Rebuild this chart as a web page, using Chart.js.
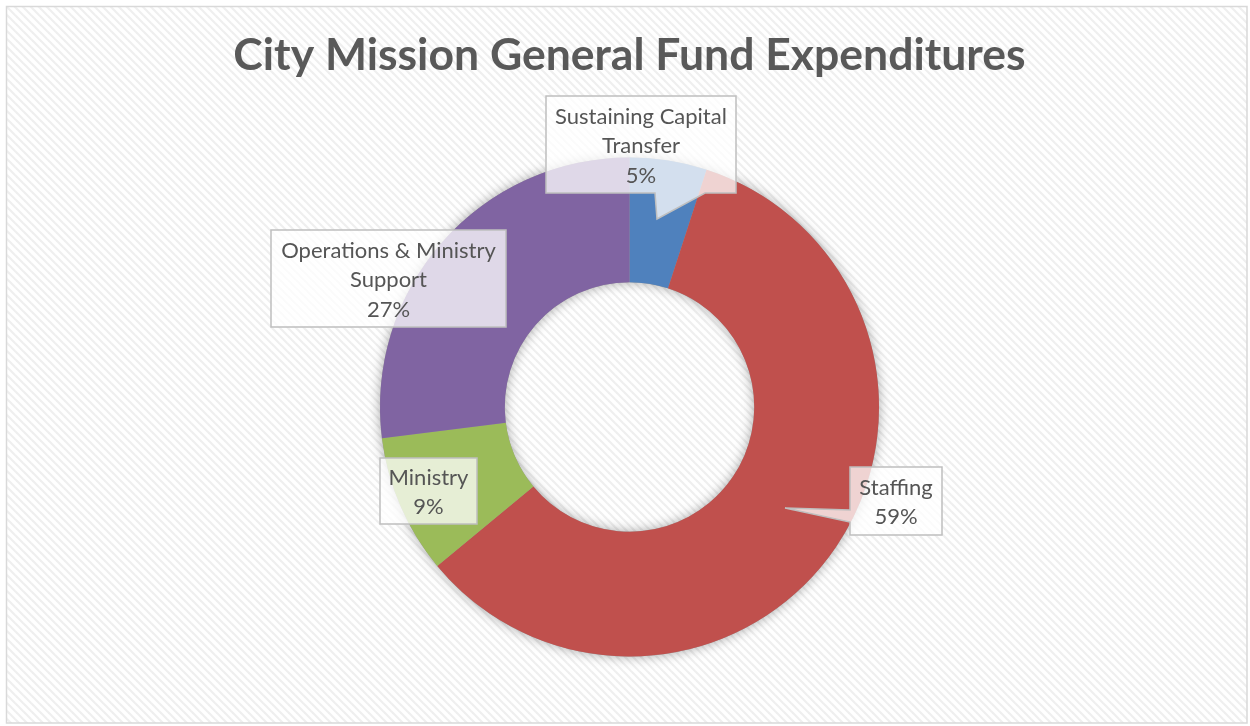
<!DOCTYPE html>
<html><head><meta charset="utf-8">
<script src="https://cdn.jsdelivr.net/npm/chart.js@4.4.0/dist/chart.umd.min.js"></script>
<style>html,body{margin:0;padding:0;background:#fff;overflow:hidden}#wrap{width:1250px;height:726px;position:relative}</style>
</head><body><div id="wrap"><canvas id="c"></canvas></div>
<script>
const categories = ['Sustaining Capital Transfer', 'Staffing', 'Ministry', 'Operations & Ministry Support'];
const labelLines = [['Sustaining Capital', 'Transfer'], ['Staffing'], ['Ministry'], ['Operations & Ministry', 'Support']];
const percentages = [5, 59, 9, 27];
const sliceColors = ['#4F81BD', '#C0504D', '#9BBB59', '#8064A2'];
const titleText = 'City Mission General Fund Expenditures';

// callout box placement relative to doughnut centre (pixels)
const calloutLayout = [
  {dx: 11.5, dy: -262.5, w: 190, h: 97, pointer: {side: 'bottom', a: 109, b: 159, tx: 27.5, ty: -188}},
  {dx: 266.5, dy: 94, w: 92, h: 68, pointer: {side: 'left', a: 43, b: 55, tx: 155.5, ty: 101}},
  {dx: -201, dy: 84, w: 97, h: 66, pointer: null},
  {dx: -241, dy: -128.5, w: 235, h: 97, pointer: null}
];

function makePattern(ctx) {
  const p = document.createElement('canvas');
  p.width = 8; p.height = 8;
  const g = p.getContext('2d');
  g.fillStyle = '#ffffff'; g.fillRect(0, 0, 8, 8);
  g.strokeStyle = '#efefef'; g.lineWidth = 2.2;
  for (let k = -2; k <= 2; k++) {
    g.beginPath(); g.moveTo(k * 8 - 2, -2); g.lineTo(k * 8 + 10, 10); g.stroke();
  }
  return ctx.createPattern(p, 'repeat');
}

const bgPlugin = {
  id: 'bg',
  beforeDraw(chart) {
    const ctx = chart.ctx;
    ctx.save();
    ctx.fillStyle = '#fff'; ctx.fillRect(0, 0, chart.width, chart.height);
    ctx.fillStyle = makePattern(ctx); ctx.fillRect(7, 7, 1240, 716);
    ctx.strokeStyle = '#d9d9d9'; ctx.lineWidth = 1.5;
    ctx.strokeRect(6.5, 6.5, 1240.5, 716.5);
    ctx.restore();
  }
};

const shadowPlugin = {
  id: 'ringShadow',
  beforeDatasetsDraw(chart) {
    const a = chart.getDatasetMeta(0).data[0];
    if (!a) return;
    const ctx = chart.ctx;
    ctx.save();
    ctx.shadowColor = 'rgba(0,0,0,0.35)';
    ctx.shadowBlur = 12;
    ctx.fillStyle = '#9a9a9a';
    ctx.beginPath();
    ctx.arc(a.x, a.y, a.outerRadius, 0, Math.PI * 2);
    ctx.arc(a.x, a.y, a.innerRadius, 0, Math.PI * 2, true);
    ctx.fill();
    ctx.restore();
  }
};

const calloutPlugin = {
  id: 'callouts',
  afterDatasetsDraw(chart) {
    const meta = chart.getDatasetMeta(0);
    const ctx = chart.ctx;
    meta.data.forEach((arc, i) => {
      const c = calloutLayout[i];
      const cx = arc.x + c.dx, cy = arc.y + c.dy;
      const L = cx - c.w / 2, T = cy - c.h / 2, R = cx + c.w / 2, B = cy + c.h / 2;
      ctx.save();
      ctx.beginPath();
      ctx.moveTo(L, T); ctx.lineTo(R, T); ctx.lineTo(R, B);
      const p = c.pointer;
      if (p && p.side === 'bottom') {
        ctx.lineTo(L + p.b, B); ctx.lineTo(arc.x + p.tx, arc.y + p.ty); ctx.lineTo(L + p.a, B);
        ctx.lineTo(L, B);
      } else if (p && p.side === 'left') {
        ctx.lineTo(L, B); ctx.lineTo(L, T + p.b); ctx.lineTo(arc.x + p.tx, arc.y + p.ty); ctx.lineTo(L, T + p.a);
      } else {
        ctx.lineTo(L, B);
      }
      ctx.closePath();
      ctx.fillStyle = 'rgba(255,255,255,0.75)';
      ctx.fill();
      ctx.strokeStyle = '#bfbfbf'; ctx.lineWidth = 1.5; ctx.lineJoin = 'miter';
      ctx.stroke();
      const lines = labelLines[i].concat([percentages[i] + '%']);
      ctx.fillStyle = '#555555';
      ctx.font = '22px Lato';
      ctx.textAlign = 'center'; ctx.textBaseline = 'middle';
      const lh = 29.5;
      const y0 = cy + 1.5 - (lines.length - 1) * lh / 2;
      lines.forEach((t, k) => ctx.fillText(t, cx, y0 + k * lh));
      ctx.restore();
    });
  }
};

new Chart(document.getElementById('c'), {
  type: 'doughnut',
  data: {
    labels: categories,
    datasets: [{data: percentages, backgroundColor: sliceColors, borderWidth: 0}]
  },
  options: {
    responsive: true, maintainAspectRatio: false, animation: false, events: [],
    cutout: '50%',
    layout: {padding: {left: 9, right: 0, top: 0, bottom: 69.5}},
    plugins: {
      legend: {display: false},
      tooltip: {enabled: false},
      title: {
        display: true, text: titleText, color: '#595959',
        font: {family: 'Lato', size: 44.5, weight: 'bold', lineHeight: 1.2},
        padding: {top: 29.3, bottom: 74.8}
      }
    }
  },
  plugins: [bgPlugin, shadowPlugin, calloutPlugin]
});
</script></body></html>
